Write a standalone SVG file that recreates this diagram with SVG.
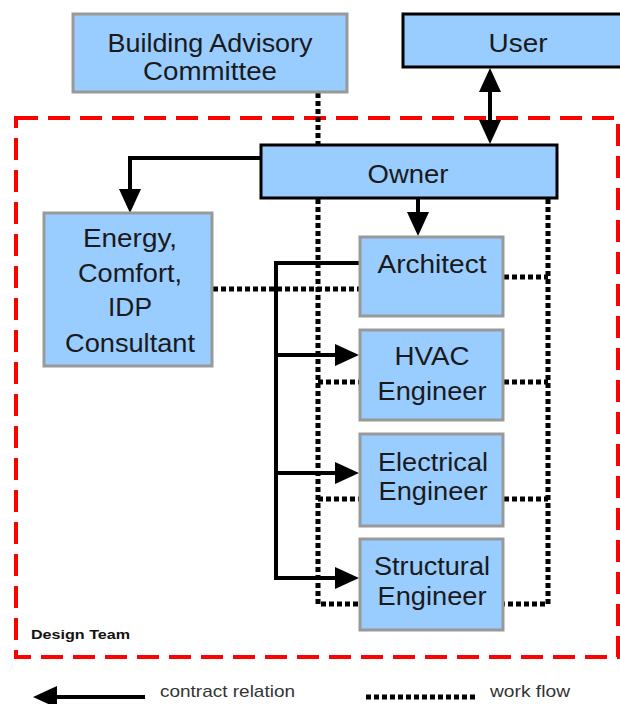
<svg xmlns="http://www.w3.org/2000/svg" width="620" height="704" viewBox="0 0 620 704">
<defs>
<style>
.box{fill:#99ccff;stroke:#999999;stroke-width:3}
.boxk{fill:#99ccff;stroke:#000000;stroke-width:3}
.t{font-family:"Liberation Sans",Arial,Helvetica,sans-serif;font-size:25px;fill:#1a1a1a;text-anchor:middle}
.lg{font-family:"Liberation Sans",Arial,Helvetica,sans-serif;font-size:17px;fill:#333333}
.contract{fill:none;stroke:#000;stroke-width:4}
.flow{fill:none;stroke:#000;stroke-width:5;stroke-dasharray:5 3}
.team{fill:none;stroke:#ff0000;stroke-width:4;stroke-dasharray:22 10}
</style>
<marker id="arr" markerUnits="userSpaceOnUse" markerWidth="24" markerHeight="22" refX="12" refY="11" orient="auto-start-reverse" viewBox="0 0 24 22">
<path d="M0,0 L24,11 L0,22 z" fill="#000"/>
</marker>
</defs>
<rect width="620" height="704" fill="#ffffff"/>
<rect class="team" x="16" y="118" width="602" height="539"/>
<text x="31" y="639" font-family="Liberation Sans,Arial,sans-serif" font-size="13" font-weight="bold" fill="#111" textLength="99" lengthAdjust="spacingAndGlyphs">Design Team</text>

<g id="connectors">
<path class="flow" d="M318,93 V145"/>
<path class="flow" d="M318,199 V604 H360"/>
<path class="flow" d="M548,199 V604 H504"/>
<path class="flow" d="M213,289 H360"/>
<path class="flow" d="M504,277 H548"/>
<path class="flow" d="M318,382 H360 M504,382 H548"/>
<path class="flow" d="M318,499 H360 M504,499 H548"/>
<path class="contract" d="M261,158 H130 V201" marker-end="url(#arr)"/>
<path class="contract" d="M418,199 V224" marker-end="url(#arr)"/>
<path class="contract" d="M490,80 V132" marker-start="url(#arr)" marker-end="url(#arr)"/>
<path class="contract" d="M361,263 H276 V578 H347" marker-end="url(#arr)"/>
<path class="contract" d="M276,355 H347" marker-end="url(#arr)"/>
<path class="contract" d="M276,473 H347" marker-end="url(#arr)"/>
</g>

<g id="bac">
<rect class="box" x="73" y="14" width="274" height="78"/>
<text class="t" x="210" y="52" textLength="205" lengthAdjust="spacingAndGlyphs">Building Advisory</text>
<text class="t" x="210" y="80" textLength="134" lengthAdjust="spacingAndGlyphs">Committee</text>
</g>
<g id="user">
<rect class="boxk" x="403" y="14" width="240" height="53"/>
<text class="t" x="518" y="52" textLength="59" lengthAdjust="spacingAndGlyphs">User</text>
</g>
<g id="owner">
<rect class="boxk" x="261" y="145" width="296" height="53"/>
<text class="t" x="408" y="183" textLength="81" lengthAdjust="spacingAndGlyphs">Owner</text>
</g>
<g id="consultant">
<rect class="box" x="44" y="213" width="168" height="153"/>
<text class="t" x="130" y="247" textLength="94" lengthAdjust="spacingAndGlyphs">Energy,</text>
<text class="t" x="130" y="282" textLength="104" lengthAdjust="spacingAndGlyphs">Comfort,</text>
<text class="t" x="130" y="316" textLength="44" lengthAdjust="spacingAndGlyphs">IDP</text>
<text class="t" x="130" y="352" textLength="130" lengthAdjust="spacingAndGlyphs">Consultant</text>
</g>
<g id="architect">
<rect class="box" x="360" y="237" width="143" height="79"/>
<text class="t" x="432" y="273" textLength="109" lengthAdjust="spacingAndGlyphs">Architect</text>
</g>
<g id="hvac">
<rect class="box" x="360" y="330" width="143" height="90"/>
<text class="t" x="432" y="365" textLength="75" lengthAdjust="spacingAndGlyphs">HVAC</text>
<text class="t" x="432" y="400" textLength="109" lengthAdjust="spacingAndGlyphs">Engineer</text>
</g>
<g id="electrical">
<rect class="box" x="360" y="434" width="143" height="92"/>
<text class="t" x="433" y="471" textLength="110" lengthAdjust="spacingAndGlyphs">Electrical</text>
<text class="t" x="433" y="500" textLength="109" lengthAdjust="spacingAndGlyphs">Engineer</text>
</g>
<g id="structural">
<rect class="box" x="360" y="539" width="143" height="91"/>
<text class="t" x="432" y="575" textLength="116" lengthAdjust="spacingAndGlyphs">Structural</text>
<text class="t" x="432" y="605" textLength="109" lengthAdjust="spacingAndGlyphs">Engineer</text>
</g>

<g id="legend">
<path class="contract" d="M145,697 H45" marker-end="url(#arr)"/>
<text class="lg" x="160" y="697" textLength="135" lengthAdjust="spacingAndGlyphs">contract relation</text>
<path class="flow" d="M366,697 H476"/>
<text class="lg" x="490" y="697" textLength="80" lengthAdjust="spacingAndGlyphs">work flow</text>
</g>
</svg>
